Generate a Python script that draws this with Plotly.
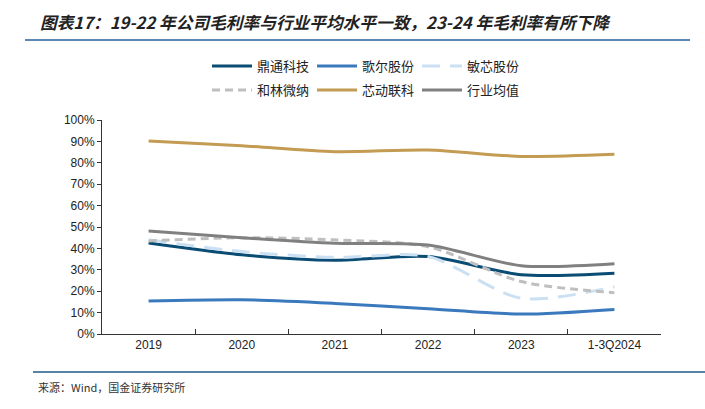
import plotly.graph_objects as go

categories = ["2019", "2020", "2021", "2022", "2023", "1-3Q2024"]
dingtong = [0.425, 0.370, 0.345, 0.362, 0.277, 0.284]
goertek = [0.154, 0.160, 0.143, 0.118, 0.093, 0.115]
minxin = [0.440, 0.385, 0.358, 0.362, 0.167, 0.221]
helin = [0.435, 0.450, 0.440, 0.408, 0.245, 0.193]
xindong = [0.902, 0.880, 0.852, 0.860, 0.830, 0.840]
avg = [0.481, 0.450, 0.424, 0.416, 0.319, 0.328]

series = [
    ("鼎通科技", dingtong, "#0b4c74", "solid", "legend"),
    ("歌尔股份", goertek, "#3b79be", "solid", "legend"),
    ("敏芯股份", minxin, "#cbe0f3", "18px,10px", "legend"),
    ("和林微纳", helin, "#bfbfbf", "8px,5px", "legend2"),
    ("芯动联科", xindong, "#c39b52", "solid", "legend2"),
    ("行业均值", avg, "#808080", "solid", "legend2"),
]

fig = go.Figure()
for name, vals, color, dash, lg in series:
    fig.add_trace(go.Scatter(
        x=categories, y=vals, name=name, mode="lines", legend=lg,
        line=dict(color=color, width=3, dash=dash, shape="spline", smoothing=0.8),
    ))

FONT = "Noto Sans CJK SC, Liberation Sans, Arial, sans-serif"

L, R, T, B = 102, 44, 120, 75
W, H = 705, 409
pw = W - L - R
ph = H - T - B

def px(x):
    return (x - L) / pw

def py(y):
    return (H - B - y) / ph

legend_common = dict(
    orientation="h", xanchor="left", yanchor="middle",
    entrywidth=50, entrywidthmode="pixels", itemwidth=40,
    font=dict(size=13, color="#222222"), bgcolor="rgba(0,0,0,0)",
)

fig.update_layout(
    width=W, height=H,
    margin=dict(l=L, r=R, t=T, b=B, autoexpand=False),
    paper_bgcolor="white", plot_bgcolor="white",
    font=dict(family=FONT, size=12, color="#222222"),
    showlegend=True,
    legend=dict(x=px(207), y=py(66), **legend_common),
    legend2=dict(x=px(207), y=py(90), **legend_common),
    xaxis=dict(
        type="category", showgrid=False, showline=True, linecolor="#333333", linewidth=1,
        ticks="inside", tickson="boundaries", ticklen=5, tickcolor="#333333",
        tickfont=dict(size=12, color="#222222", family="Liberation Sans, Arial, sans-serif"),
        range=[-0.5, 5.5],
    ),
    yaxis=dict(
        range=[0, 1], tickformat=".0%", dtick=0.1, showgrid=False, showline=True,
        linecolor="#333333", linewidth=1, ticks="outside", ticklen=4, tickcolor="#333333",
        tickfont=dict(size=12, color="#222222", family="Liberation Sans, Arial, sans-serif"),
        zeroline=False,
    ),
    shapes=[
        dict(type="line", xref="paper", yref="paper", x0=px(25), x1=px(690), y0=py(40), y1=py(40),
             line=dict(color="#5b88b0", width=2)),
        dict(type="line", xref="paper", yref="paper", x0=px(33), x1=px(705), y0=py(372), y1=py(372),
             line=dict(color="#1f5a8a", width=1.5)),
    ],
    annotations=[
        dict(text="<b><i>图表17：19-22 年公司毛利率与行业平均水平一致，23-24 年毛利率有所下降</i></b>",
             xref="paper", yref="paper", x=px(38), y=py(22), xanchor="left", yanchor="middle",
             showarrow=False, font=dict(size=16.7, color="#222222", family=FONT)),
        dict(text="来源：Wind，国金证券研究所",
             xref="paper", yref="paper", x=px(36), y=py(387), xanchor="left", yanchor="middle",
             showarrow=False, font=dict(size=11, color="#333333", family=FONT)),
    ],
)

fig.write_html(
    "out.html",
    config={"displayModeBar": False},
    post_script="document.body.style.margin='0';document.body.style.overflow='hidden';",
)
